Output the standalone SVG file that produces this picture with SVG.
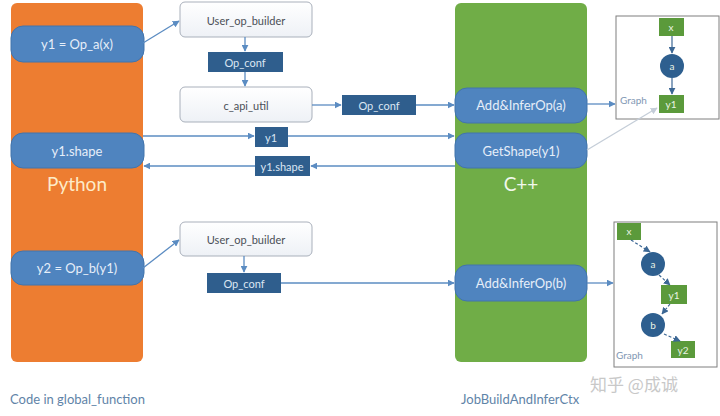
<svg xmlns="http://www.w3.org/2000/svg" width="720" height="416" viewBox="0 0 720 416">
<defs>
<linearGradient id="wg" x1="0" y1="0" x2="0" y2="1"><stop offset="0" stop-color="#ffffff"/><stop offset="1" stop-color="#eef1f6"/></linearGradient>
<marker id="ah" viewBox="0 0 10 10" refX="9" refY="5" markerWidth="7" markerHeight="7" orient="auto" markerUnits="userSpaceOnUse"><path d="M0,0 L10,5 L0,10 z" fill="#5b8cc2"/></marker>
<marker id="ahd" viewBox="0 0 10 10" refX="9" refY="5" markerWidth="7" markerHeight="7" orient="auto" markerUnits="userSpaceOnUse"><path d="M0,0 L10,5 L0,10 z" fill="#3c6794"/></marker>
<marker id="ahg" viewBox="0 0 10 10" refX="9" refY="5" markerWidth="7" markerHeight="7" orient="auto" markerUnits="userSpaceOnUse"><path d="M0,0 L10,5 L0,10 z" fill="#c4cdd8"/></marker>
</defs>
<style>
.t{font-family:Lato,"Open Sans","Liberation Sans",sans-serif}
.pill{fill:#4f84bf;stroke:#4274ac;stroke-width:1}
.pt{fill:#e6eef9;font-size:13px;text-anchor:middle;dominant-baseline:central}
.wb{fill:url(#wg);stroke:#a9b0bb;stroke-width:1}
.wt{fill:#4a4f57;font-size:11px;text-anchor:middle;dominant-baseline:central}
.db{fill:#2f5e8d}
.dt{fill:#dbe6f3;font-size:11px;text-anchor:middle;dominant-baseline:central}
.ln{stroke:#5b8cc2;stroke-width:1.3;fill:none}
.gbox{fill:#fff;stroke:#7f7f7f;stroke-width:1}
.gn{fill:#5b9a3b}
.gc{fill:#2e5f8f}
.gt{fill:#eaf3e4;font-size:10px;text-anchor:middle;dominant-baseline:central}
.gl{fill:#7f97b3;font-size:10px}
.dash{stroke:#3c6794;stroke-width:1.2;stroke-dasharray:3,2;fill:none}
.cap{fill:#5f84a8;font-size:13px}
</style>
<g id="python-col">
<rect x="11" y="3" width="132" height="359" rx="6" fill="#ed7d31"/>
<text class="t" x="77" y="183" font-size="19" fill="#fdebc8" text-anchor="middle" dominant-baseline="central">Python</text>
</g>
<g id="cpp-col">
<rect x="455" y="3" width="132" height="359" rx="6" fill="#70ad47"/>
<text class="t" x="521" y="183" font-size="19" fill="#f2f8ec" text-anchor="middle" dominant-baseline="central">C++</text>
</g>
<g id="y1-op"><rect class="pill" x="11" y="26" width="133" height="36" rx="12"/><text class="t pt" x="77" y="44">y1 = Op_a(x)</text></g>
<g id="y1-shape"><rect class="pill" x="11" y="133" width="133" height="35" rx="12"/><text class="t pt" x="77" y="151">y1.shape</text></g>
<g id="y2-op"><rect class="pill" x="11" y="251" width="133" height="34" rx="12"/><text class="t pt" x="77" y="268">y2 = Op_b(y1)</text></g>
<g id="add-a"><rect class="pill" x="455" y="88" width="132" height="35" rx="12"/><text class="t pt" x="521" y="105">Add&amp;InferOp(a)</text></g>
<g id="getshape"><rect class="pill" x="455" y="133" width="132" height="35" rx="12"/><text class="t pt" x="521" y="151">GetShape(y1)</text></g>
<g id="add-b"><rect class="pill" x="455" y="265" width="132" height="36" rx="12"/><text class="t pt" x="521" y="283">Add&amp;InferOp(b)</text></g>
<g id="uob1"><rect class="wb" x="180" y="2" width="132" height="35" rx="5"/><text class="t wt" x="246" y="20">User_op_builder</text></g>
<g id="opconf1"><rect class="db" x="208" y="52" width="75" height="20"/><text class="t dt" x="245" y="62">Op_conf</text></g>
<g id="capi"><rect class="wb" x="180" y="87" width="132" height="35" rx="5"/><text class="t wt" x="246" y="105" font-size="13">c_api_util</text></g>
<g id="opconf2"><rect class="db" x="342" y="95" width="74" height="20"/><text class="t dt" x="379" y="105">Op_conf</text></g>
<g id="y1-box"><rect class="db" x="255" y="127" width="33" height="20"/><text class="t dt" x="271" y="137">y1</text></g>
<g id="y1shape-box"><rect class="db" x="255" y="156" width="55" height="20"/><text class="t dt" x="282" y="166">y1.shape</text></g>
<g id="uob2"><rect class="wb" x="180" y="222" width="132" height="34" rx="5"/><text class="t wt" x="246" y="239">User_op_builder</text></g>
<g id="opconf3"><rect class="db" x="207" y="273" width="74" height="20"/><text class="t dt" x="244" y="283">Op_conf</text></g>
<g id="graph1">
<rect class="gbox" x="616" y="16" width="103" height="103"/>
<text class="t gl" x="620" y="104">Graph</text>
<rect class="gn" x="659" y="18" width="25" height="18"/><text class="t gt" x="671" y="27">x</text>
<circle class="gc" cx="672" cy="66" r="12"/><text class="t gt" x="672" y="66">a</text>
<rect class="gn" x="659" y="95" width="25" height="18"/><text class="t gt" x="671" y="104">y1</text>
<line x1="672" y1="36" x2="672" y2="53" stroke="#3c6794" stroke-width="1.2" marker-end="url(#ahd)"/>
<line x1="672" y1="78" x2="672" y2="94" stroke="#3c6794" stroke-width="1.2" marker-end="url(#ahd)"/>
</g>
<g id="graph2">
<rect class="gbox" x="614" y="222" width="103" height="145"/>
<text class="t gl" x="616" y="359">Graph</text>
<rect class="gn" x="617" y="223" width="24" height="17"/><text class="t gt" x="629" y="231">x</text>
<circle class="gc" cx="653" cy="264" r="12"/><text class="t gt" x="653" y="264">a</text>
<rect class="gn" x="661" y="285" width="26" height="19"/><text class="t gt" x="674" y="295">y1</text>
<circle class="gc" cx="653" cy="325" r="12"/><text class="t gt" x="653" y="325">b</text>
<rect class="gn" x="671" y="341" width="24" height="17"/><text class="t gt" x="683" y="350">y2</text>
<line class="dash" x1="631" y1="240" x2="650" y2="252" marker-end="url(#ahd)"/>
<line class="dash" x1="659" y1="275" x2="670" y2="285" marker-end="url(#ahd)"/>
<line class="dash" x1="670" y1="304" x2="662" y2="314" marker-end="url(#ahd)"/>
<line class="dash" x1="664" y1="334" x2="680" y2="341" marker-end="url(#ahd)"/>
</g>
<g id="connectors">
<line class="ln" x1="143" y1="43" x2="179" y2="21" marker-end="url(#ah)"/>
<line class="ln" x1="245" y1="37" x2="245" y2="51" marker-end="url(#ah)"/>
<line class="ln" x1="245" y1="72" x2="245" y2="86" marker-end="url(#ah)"/>
<line class="ln" x1="312" y1="105" x2="341" y2="105" marker-end="url(#ah)"/>
<line class="ln" x1="416" y1="105" x2="454" y2="105" marker-end="url(#ah)"/>
<line class="ln" x1="587" y1="104" x2="615" y2="104" marker-end="url(#ah)"/>
<line x1="587" y1="150" x2="657" y2="108" stroke="#c4cdd8" stroke-width="1.2" marker-end="url(#ahg)"/>
<line class="ln" x1="143" y1="136" x2="254" y2="136" marker-end="url(#ah)"/>
<line class="ln" x1="288" y1="136" x2="454" y2="136" marker-end="url(#ah)"/>
<line class="ln" x1="455" y1="166" x2="311" y2="166" marker-end="url(#ah)"/>
<line class="ln" x1="255" y1="166" x2="144" y2="166" marker-end="url(#ah)"/>
<line class="ln" x1="143" y1="268" x2="179" y2="240" marker-end="url(#ah)"/>
<line class="ln" x1="244" y1="256" x2="244" y2="272" marker-end="url(#ah)"/>
<line class="ln" x1="281" y1="283" x2="454" y2="283" marker-end="url(#ah)"/>
<line class="ln" x1="587" y1="283" x2="613" y2="283" marker-end="url(#ah)"/>
</g>
<text class="t cap" x="10" y="404">Code in global_function</text>
<text class="t cap" x="461" y="404">JobBuildAndInferCtx</text>
<text x="590" y="391" font-family="'Noto Sans CJK SC',sans-serif" font-size="17" fill="#c8c8c8">知乎 @成诚</text>
</svg>
